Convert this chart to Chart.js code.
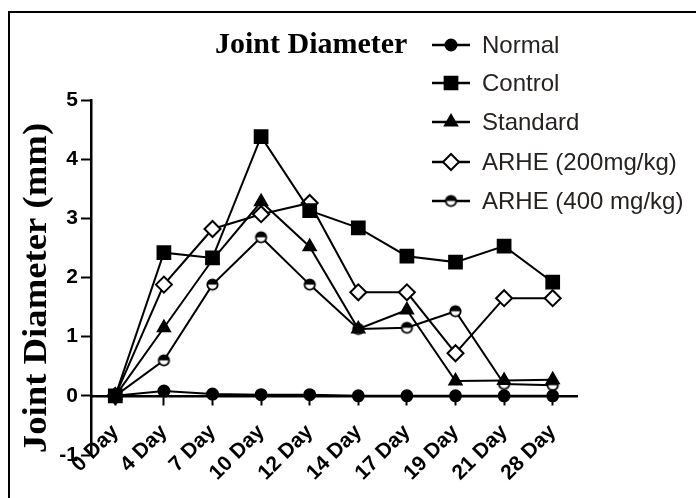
<!DOCTYPE html>
<html>
<head>
<meta charset="utf-8">
<script src="https://cdn.jsdelivr.net/npm/chart.js@4.4.1/dist/chart.umd.min.js"></script>
<style>
  body { margin: 0; background: #fff; }
</style>
</head>
<body>
<canvas id="jointChart" width="696" height="498"></canvas>
<script>
// data
const days = ["0 Day", "4 Day", "7 Day", "10 Day", "12 Day", "14 Day", "17 Day", "19 Day", "21 Day", "28 Day"];
const normal   = [0, 0.08, 0.03, 0.02, 0.02, 0, 0, 0, 0, 0];
const control  = [0, 2.42, 2.33, 4.38, 3.13, 2.84, 2.36, 2.26, 2.53, 1.92];
const standard = [0, 1.15, 2.3, 3.28, 2.52, 1.13, 1.45, 0.25, 0.26, 0.27];
const arhe200  = [0, 1.88, 2.82, 3.07, 3.26, 1.75, 1.75, 0.72, 1.65, 1.65];
const arhe400  = [0, 0.6, 1.88, 2.68, 1.88, 1.13, 1.15, 1.43, 0.2, 0.18];
const seriesNames = ["Normal", "Control", "Standard", "ARHE (200mg/kg)", "ARHE (400 mg/kg)"];
const yTicks = [-1, 0, 1, 2, 3, 4, 5];

// half filled circle for ARHE 400
function halfCircle() {
    let c = document.createElement("canvas");
    c.width = 15; c.height = 15;
    let g = c.getContext("2d");
    g.beginPath();
    g.arc(7.5, 7.5, 5.2, 0, Math.PI * 2);
    g.fillStyle = "#fff";
    g.fill();
    g.beginPath();
    g.arc(7.5, 7.5, 5.2, Math.PI, Math.PI * 2);
    g.closePath();
    g.fillStyle = "#000";
    g.fill();
    g.beginPath();
    g.arc(7.5, 7.5, 5.2, 0, Math.PI * 2);
    g.lineWidth = 1.8;
    g.strokeStyle = "#000";
    g.stroke();
    return c;
}

function serie(label, data, style, radius, fill) {
    return {
        label: label,
        data: data,
        borderColor: "#000",
        borderWidth: 2,
        pointStyle: style,
        pointRadius: radius,
        pointHoverRadius: radius,
        pointBackgroundColor: fill,
        pointBorderColor: "#000",
        pointBorderWidth: 2,
        tension: 0,
        fill: false,
    };
}

const datasets = [
    serie(seriesNames[0], normal, "circle", 5.5, "#000"),
    serie(seriesNames[1], control, "rect", 9, "#000"),
    serie(seriesNames[2], standard, "triangle", 7, "#000"),
    serie(seriesNames[3], arhe200, "rectRot", 8, "#fff"),
    serie(seriesNames[4], arhe400, halfCircle(), 6, "#fff"),
];

// border, titles and legend drawn on the canvas
const decor = {
    id: "decor",
    beforeDraw(chart) {
        let ctx = chart.ctx;
        ctx.save();
        ctx.fillStyle = "#fff";
        ctx.fillRect(0, 0, chart.width, chart.height);
        ctx.strokeStyle = "#000";
        ctx.lineWidth = 2;
        ctx.strokeRect(9, 12, 720, 520);
        ctx.restore();
    },
    afterDraw(chart) {
        let ctx = chart.ctx;
        ctx.save();
        ctx.fillStyle = "#000";
        ctx.font = "bold 30px 'Liberation Serif', 'Times New Roman', serif";
        ctx.textBaseline = "middle";
        ctx.textAlign = "left";
        ctx.fillText("Joint Diameter", 215, 45);

        // y axis title
        ctx.save();
        ctx.translate(37, 288);
        ctx.rotate(-Math.PI / 2);
        ctx.scale(1.08, 1);
        ctx.textAlign = "center";
        ctx.font = "bold 34px 'Liberation Serif', 'Times New Roman', serif";
        ctx.fillText("Joint Diameter (mm)", 0, 0);
        ctx.restore();

        let rows = [45, 83, 122, 162, 201];
        chart.data.datasets.forEach(function (ds, i) {
            let y = rows[i];
            ctx.strokeStyle = "#000";
            ctx.lineWidth = 2.5;
            ctx.beginPath();
            ctx.moveTo(432, y);
            ctx.lineTo(470, y);
            ctx.stroke();
            ctx.fillStyle = ds.pointBackgroundColor;
            ctx.strokeStyle = "#000";
            ctx.lineWidth = 2;
            Chart.helpers.drawPoint(ctx, {
                pointStyle: ds.pointStyle,
                radius: ds.pointRadius,
                borderWidth: 2,
                rotation: 0,
            }, 451, y);
            ctx.fillStyle = "#262220";
            ctx.font = "24px 'Liberation Sans', Arial, sans-serif";
            ctx.fillText(ds.label, 482, y + 1);
        });
        ctx.restore();
    },
};

let ctx = document.getElementById("jointChart");
let jointChart = new Chart(ctx, {
    type: "line",
    data: {
        labels: days,
        datasets: datasets,
    },
    options: {
        responsive: false,
        animation: false,
        layout: {
            padding: { left: 0, top: 100, right: 119, bottom: 43 },
        },
        plugins: {
            legend: { display: false },
            title: { display: false },
            tooltip: { enabled: false },
        },
        scales: {
            x: {
                type: "category",
                offset: true,
                position: { y: 0 },
                grid: {
                    display: true,
                    drawOnChartArea: false,
                    drawTicks: true,
                    tickLength: 8,
                    tickWidth: 2,
                    tickColor: "#000",
                    offset: false,
                },
                border: { display: true, color: "#000", width: 2.5 },
                ticks: {
                    color: "#000",
                    minRotation: 45,
                    maxRotation: 45,
                    autoSkip: false,
                    padding: 16,
                    font: { family: "'Liberation Sans', Arial, sans-serif", size: 21, weight: "bold" },
                },
            },
            y: {
                min: -1,
                max: 5,
                afterBuildTicks: function (scale) {
                    scale.ticks = yTicks.map(function (v) { return { value: v }; });
                },
                afterFit: function (scale) {
                    scale.width = 91;
                },
                grid: {
                    display: true,
                    drawOnChartArea: false,
                    drawTicks: true,
                    tickLength: 10,
                    tickWidth: 2,
                    tickColor: "#000",
                },
                border: { display: true, color: "#000", width: 2.5 },
                ticks: {
                    color: "#000",
                    padding: 3,
                    font: { family: "'Liberation Sans', Arial, sans-serif", size: 21, weight: "bold" },
                },
            },
        },
    },
    plugins: [decor],
});
</script>
</body>
</html>
